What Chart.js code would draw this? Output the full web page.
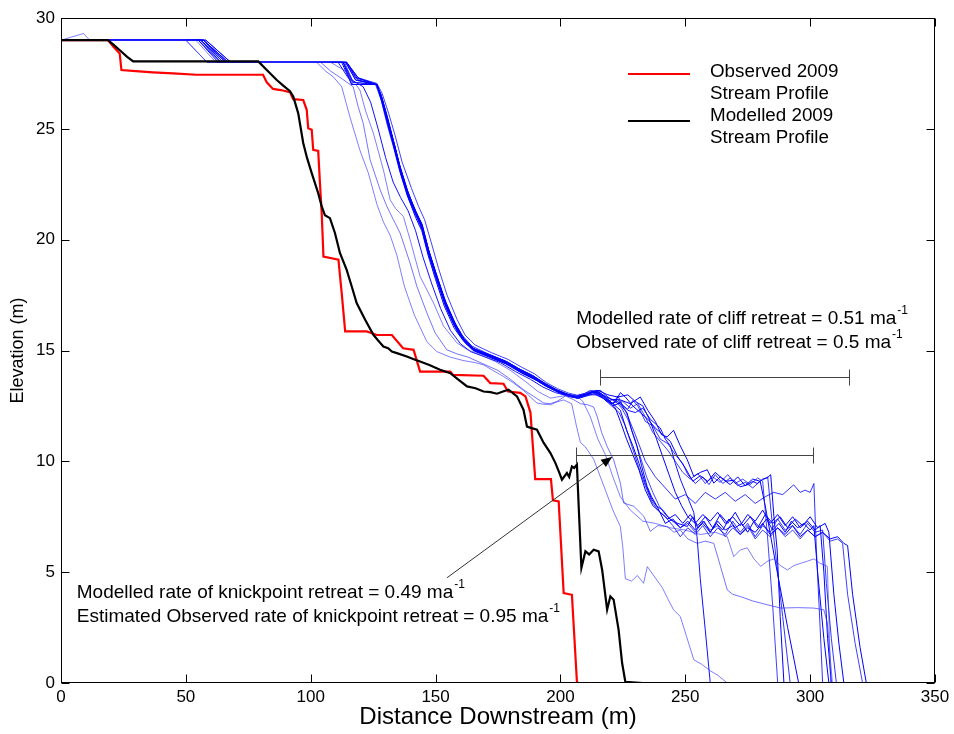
<!DOCTYPE html>
<html>
<head>
<meta charset="utf-8">
<title>Stream profile: observed vs modelled</title>
<style>
  html, body { margin: 0; padding: 0; background: #fff; }
  canvas { display: block; }
</style>
<script src="https://cdn.jsdelivr.net/npm/chart.js"></script>
</head>
<body>
<canvas id="profile" width="954" height="734"></canvas>
<script>
// Axis ticks
const xTicks = [0, 50, 100, 150, 200, 250, 300, 350];
const yTicks = [0, 5, 10, 15, 20, 25, 30];

// Observed 2009 stream profile [distance m, elevation m]
const observed2009 = [[0,29],[18.8,29],[21,28.7],[23.5,28.4],[24.2,27.65],[30,27.6],[36.8,27.55],[44.8,27.5],[54.3,27.44],[80.9,27.44],[82.4,27.1],[84.9,26.8],[88,26.75],[91.7,26.65],[93,26.34],[97,26.3],[98.4,25.86],[99,25.03],[100.4,24.96],[101,24.05],[103,24.0],[103.7,22.55],[104.4,21.2],[105.1,19.24],[111.1,19.1],[112.4,17.6],[113.8,15.86],[122.4,15.86],[126.5,15.7],[132.5,15.7],[137,15.1],[141.2,15.03],[143.8,14.05],[155.9,14.05],[157,13.9],[169.2,13.86],[171.9,13.53],[177.2,13.5],[179,13.15],[183.9,13.09],[186,12.93],[188,12.2],[189.9,9.2],[196.2,9.2],[197,8.24],[199.3,8.19],[201.3,4.06],[204.6,3.98],[206.6,0.07],[207,0],[225,0]];

// Modelled 2009 stream profile
const modelled2009 = [[0,29],[18.8,29],[21,28.8],[24,28.5],[26.5,28.25],[28.9,28.04],[79,28.04],[82,27.7],[86.4,27.2],[89,26.95],[91.7,26.7],[93,26.46],[95,25.7],[97,24.36],[98.5,23.7],[100.4,23.0],[103,22.1],[104.4,21.5],[105.7,21.1],[107.7,20.97],[109.7,20.3],[111.7,19.4],[114.4,18.64],[116.4,17.9],[118.4,17.14],[121.8,16.39],[125.1,15.71],[127,15.45],[129.1,15.18],[131,15.1],[132.5,14.95],[134.5,14.88],[138.5,14.73],[141,14.62],[143.8,14.5],[147.5,14.35],[151.8,14.13],[155.9,13.98],[159,13.7],[162.6,13.38],[166,13.3],[169.2,13.15],[172,13.12],[174.6,13.05],[177,13.15],[179.2,13.23],[182.6,12.93],[185.2,12.33],[186.6,11.57],[188.5,11.5],[190.6,11.43],[193.3,10.83],[196,10.37],[198,9.92],[199.5,9.5],[200.6,9.17],[202.6,9.47],[203.5,9.3],[204.6,9.77],[205.5,9.7],[206.6,9.85],[207.5,7.5],[208.4,5.19],[210,5.94],[211.5,5.8],[213.3,6.01],[215.3,5.94],[216.7,5.11],[218.7,3.31],[220,3.91],[221.3,3.76],[223.3,2.4],[224.7,0.9],[226,0.05],[233,0]];

// Individual model runs
const run01 = [[0,29],[9,29.3],[11.5,29],[50,29],[58.5,28],[102.4,28],[106,27.6],[109,27.35],[112.4,26.9],[115.8,25.5],[119.8,24.0],[123.1,23.0],[126.5,21.6],[129.1,20.8],[131.8,20.2],[134.5,19.3],[137.5,17.9],[141.5,16.6],[146.5,15.4],[150.5,14.95],[155.9,14.7],[161,14.55],[166,14.45],[169.2,14.35],[173,14.1],[177.2,13.83],[181,13.55],[185.2,13.2],[188,12.9],[190.6,12.63],[193,12.58],[196,12.55],[198.6,12.68],[201.3,12.77],[204.5,12.6],[206.6,11.5],[208,10.85],[210,10.65],[213.3,10.1],[216,9.3],[218,8.7],[221,7.8],[224,7.05],[225,6.1],[226,4.7],[228.5,4.6],[230.8,4.85],[233.3,4.5],[234.8,5.25],[237,4.9],[240.8,4.3],[243,3.8],[245.3,3.3],[248,3.0],[250.5,2.1],[253.4,1.05],[256.5,0.85],[260,0.55],[263,0.35],[266.8,0],[350,0]];
const run02 = [[0,29],[50,29],[58.5,28],[104,28],[108,27.6],[112,27.3],[117,26.9],[119,26.0],[121,25.26],[123.8,23.6],[127.8,22.25],[130.5,21.5],[133.1,20.9],[135.8,20.3],[139.8,18.94],[142.5,17.9],[146.5,16.7],[149.8,15.8],[154.5,15.03],[158.5,14.85],[163,14.7],[169,14.4],[175,14.1],[180,13.7],[185.2,13.23],[189.3,12.93],[193.3,12.63],[196,12.6],[198.6,12.7],[202,12.95],[205.3,12.78],[208,12.6],[211,12.55],[213.3,12.45],[214.7,12.03],[216.5,11.3],[218.7,10.67],[221.3,10.07],[224,9.02],[225.3,8.12],[229.4,7.97],[233.4,7.52],[236,6.84],[239,7.1],[242.7,7.06],[245.5,6.8],[248,6.9],[251,6.5],[254.8,6.3],[258,6.4],[261.4,6.3],[264.1,5.26],[266.8,4.2],[269,4.0],[272.1,3.9],[277,3.7],[282.8,3.53],[288.2,3.38],[295,3.4],[301.5,3.38],[305.5,3.3],[306.9,2.7],[308,1.2],[308.9,0],[350,0]];
const run03 = [[0,29],[54,29],[62,28],[108,28],[114,27.6],[119.7,26.75],[122,25.8],[125.1,24.8],[129.1,23.15],[131.8,21.8],[134,21.4],[137.1,21.05],[139.8,20.0],[143.8,18.34],[149.2,17.14],[153.2,16.1],[158.5,15.35],[162.5,15.05],[168,14.8],[174,14.5],[180,14.1],[186,13.6],[191,13.15],[196,12.85],[201,12.95],[206,13.0],[209,12.7],[212,12.0],[215,11.0],[218,10.3],[221,9.3],[224,8.4],[228,7.8],[233,7.3],[238,7.2],[244,7.0],[250,6.9],[256,6.7],[262,6.8],[266.8,6.6],[269.4,5.7],[272,6.0],[274.8,6.1],[277.5,5.6],[280.2,5.26],[283,5.5],[285.5,5.6],[288,5.3],[290.9,5.1],[293.5,5.3],[296.2,5.4],[299,5.5],[301.5,5.6],[304,5.4],[306.9,5.26],[307.5,3.0],[308.2,0],[350,0]];
const run04 = [[0,29],[56,29],[64,28],[111,28],[115,27.3],[121,26.9],[124,26.2],[127,25.0],[130,23.7],[133,22.6],[136,21.9],[139,21.3],[142,20.4],[145,19.2],[148.5,18.0],[152,16.9],[156,15.9],[160,15.3],[164,14.95],[170,14.7],[176,14.45],[182,14.05],[188,13.7],[193,13.35],[198,13.1],[203,12.95],[207,12.85],[211,13.0],[215,13.0],[218,12.8],[221,12.5],[224,12.65],[227,12.3],[230,12.2],[233,12.4],[236,11.9],[240,11.5],[242,11.0],[244,10.7],[246,9.9],[248,9.2],[250.5,8.5],[253.4,7.7],[254.7,6.6],[256,4.7],[258,2.4],[260,0],[350,0]];
const run05 = [[0,29],[58,29],[68,28],[114.4,28],[119,27.3],[126.5,27.0],[128.5,26.4],[131,25.3],[133.5,24.3],[136,23.1],[139,22.0],[142.5,21.1],[144.5,20.6],[147.2,19.4],[150.5,18.3],[154,17.1],[158,16.1],[161.2,15.5],[165.2,15.05],[172,14.75],[178.6,14.45],[184,14.1],[189.3,13.8],[194,13.45],[198.6,13.2],[203,13.0],[206.6,12.9],[210,13.0],[212.5,13.1],[214.7,13.15],[217,13.0],[220,12.8],[224,12.77],[228,12.6],[232,12.9],[235,12.3],[238,11.8],[240.5,11.2],[242.7,11.1],[245.3,11.4],[248,10.7],[250.8,10.07],[253.4,9.32],[256,9.5],[258.8,9.62],[261.4,9.02],[264,9.3],[266.5,9.1],[269.4,9.15],[272,8.85],[274.8,8.94],[277,9.1],[278.8,9.0],[281,9.2],[282.8,9.25],[284.2,9.4],[285.5,7.5],[286.8,6.0],[288,3.0],[289.5,0],[350,0]];
const run06 = [[0,29],[57,29],[66,28],[114,28],[118,27.2],[126,27.0],[128,26.6],[130.5,25.6],[133,24.5],[135.5,23.4],[138.5,22.3],[141.5,21.4],[144,20.8],[146.5,19.8],[149.5,18.7],[153,17.5],[157,16.4],[160.5,15.7],[164.5,15.2],[171,14.85],[177.5,14.55],[183,14.2],[188.5,13.9],[193.5,13.55],[198,13.25],[202,13.05],[206,12.95],[209.5,13.05],[212,13.2],[214,13.1],[218,12.9],[221,12.6],[223,12.95],[225,12.5],[227,12.35],[229,12.75],[231,12.5],[234,11.8],[237,11.6],[240,11.0],[243,10.8],[246,10.3],[249,9.9],[251,9.4],[254,9.0],[257,9.3],[259.5,8.95],[262,9.4],[265,9.0],[268,9.25],[271,8.9],[274,9.05],[277,8.8],[280,9.1],[283,9.3],[285,7.0],[289,3.0],[292,0],[350,0]];
const run07 = [[0,29],[55,29],[63,28],[113,28],[116.4,27.0],[126.5,27.0],[129,26.1],[131.5,25.0],[133.5,24.1],[136,23.0],[139,21.9],[142,21.0],[144.5,20.4],[147,19.3],[150,18.2],[153.5,17.0],[157.5,16.0],[161,15.45],[165,15.0],[171.5,14.7],[178,14.4],[183.5,14.05],[189,13.75],[194,13.4],[198.5,13.15],[203,12.95],[206.6,12.88],[210,12.98],[213,13.15],[216,13.2],[219,12.9],[222,12.7],[224,13.1],[226,12.9],[229,12.5],[232,12.2],[235,11.9],[238,11.5],[241,11.2],[244,10.9],[247,10.2],[250,9.7],[253,9.1],[256,9.35],[259,9.1],[262,9.5],[265,9.2],[268,8.95],[271,9.3],[274,8.9],[277,9.2],[280,9.1],[282,8.0],[286,5.5],[291,2.5],[295.4,0],[350,0]];
const run08 = [[0,29],[56,29],[65,28],[113,28],[117,27.0],[126.5,27.0],[128.8,26.2],[131.3,25.1],[133.8,24.0],[136.3,22.9],[139.3,21.9],[142.8,21.0],[145,20.4],[147.7,19.2],[151,18.1],[154.5,16.9],[158.5,15.95],[162,15.4],[166,15.0],[172.5,14.7],[179,14.4],[184.5,14.0],[190,13.7],[194.5,13.4],[199,13.15],[203.5,12.95],[207,12.85],[210.5,13.0],[213,13.1],[216,12.95],[219,12.7],[222,12.55],[225,12.7],[228,12.4],[231,12.6],[234,12.0],[237,11.3],[240,10.9],[243,10.5],[246,10.0],[249,9.5],[252,9.2],[255,9.45],[258,9.0],[261,9.3],[264,9.05],[267,9.4],[270,9.0],[273,9.2],[276,8.95],[279,9.25],[281,9.1],[283,6.5],[285,3.5],[287,0],[350,0]];
const run09 = [[0,29],[57,29],[67,28],[114.4,28],[118,27.3],[126.5,27.0],[128.3,26.5],[130.8,25.5],[133.3,24.4],[135.8,23.3],[138.8,22.2],[142.2,21.2],[144.4,20.7],[147,19.6],[150.3,18.4],[153.8,17.2],[157.8,16.2],[161,15.55],[165,15.1],[171.8,14.8],[178.4,14.5],[183.8,14.15],[189.1,13.85],[193.8,13.5],[198.4,13.22],[202.8,13.02],[206.4,12.92],[209.8,13.02],[212.3,13.12],[214.5,13.2],[217,13.0],[220,12.6],[223,12.7],[226.7,12.18],[228.5,11.4],[230.7,10.67],[232.5,9.8],[234.7,8.87],[236.5,8.4],[238.7,7.97],[241,7.8],[244,7.37],[247,7.2],[250.8,7.06],[253,7.5],[255,7.0],[257.5,7.3],[260,6.8],[262.5,7.2],[265,6.9],[267.5,7.4],[270,7.0],[272.5,7.2],[275,6.8],[277.5,7.3],[280,7.0],[282.5,7.4],[285,6.9],[287.5,7.2],[290,6.8],[292.5,7.3],[295,7.0],[297.5,7.2],[300,6.9],[301.5,7.1],[303,5.0],[305.5,2.0],[307.5,0],[350,0]];
const run10 = [[0,29],[56,29],[66,28],[113.5,28],[117,27.1],[126,27.0],[128.2,26.3],[130.6,25.2],[133.1,24.2],[135.6,23.1],[138.6,22.0],[142,21.1],[144.2,20.6],[146.8,19.5],[150,18.3],[153.6,17.1],[157.6,16.1],[160.8,15.5],[164.8,15.05],[171.6,14.75],[178.2,14.45],[183.6,14.1],[189,13.8],[193.6,13.45],[198.2,13.2],[202.6,13.0],[206.2,12.9],[209.6,13.0],[212.2,13.12],[214.6,13.1],[217.5,12.8],[220.5,12.5],[223.5,12.2],[226,11.6],[228,10.9],[230,10.2],[232,9.5],[234,8.9],[236.5,8.2],[239,7.8],[242,7.5],[245,7.1],[248,6.6],[251,7.0],[254,6.7],[257,7.1],[260,6.6],[263,7.0],[266,6.7],[269,7.3],[272,6.8],[275,7.2],[278,6.6],[281,7.1],[284,6.8],[287,7.4],[290,6.9],[293,7.1],[296,6.7],[299,7.2],[302,6.8],[305,6.9],[306.5,4.5],[308.5,2.0],[310.5,0],[350,0]];
const run11 = [[0,29],[55,29],[64,28],[112.4,28],[116.4,27.0],[126.5,27.0],[129,26.0],[131.6,24.9],[134,23.9],[136.6,22.8],[139.6,21.8],[143,20.9],[145.2,20.3],[147.8,19.2],[151.2,18.0],[154.8,16.8],[158.8,15.85],[162.2,15.3],[166.2,14.95],[173,14.65],[179.4,14.35],[185,13.95],[190.4,13.65],[195,13.35],[199.4,13.1],[203.6,12.92],[207.2,12.84],[210.6,12.95],[213.4,13.05],[216,12.9],[219,12.75],[222,12.4],[224,11.8],[226.5,11.0],[229,10.3],[231.5,9.6],[234,8.7],[237,8.0],[240,7.7],[243,7.4],[246,7.6],[249,7.2],[252,7.6],[255,7.1],[258,7.5],[261,7.0],[264,7.6],[267,7.2],[270,7.7],[273,7.1],[276,7.5],[279,7.0],[282,7.6],[285,7.2],[288,7.5],[291,7.0],[294,7.4],[297,7.1],[300,7.5],[303,7.0],[306,7.2],[307.5,6.8],[309.5,4.0],[311.5,1.8],[313.5,0],[350,0]];
const run12 = [[0,29],[58,29],[68,28],[114.4,28],[119,27.3],[126.5,27.05],[128.6,26.6],[131.2,25.7],[133.8,24.7],[136.6,23.5],[140.4,22.3],[143.2,21.5],[145.6,20.9],[148.2,19.9],[151.2,18.7],[154.6,17.5],[158.6,16.4],[161.8,15.7],[165.8,15.25],[172.4,14.9],[179,14.6],[184.4,14.25],[189.6,13.95],[194.4,13.55],[198.8,13.28],[203.2,13.08],[206.8,12.98],[210.2,13.08],[213,13.2],[215.5,13.05],[218.5,12.7],[221.5,12.8],[224.5,12.4],[227,11.9],[229.5,11.1],[232,10.2],[234.5,9.3],[237,8.6],[239.5,8.0],[242,7.6],[245,7.3],[248,7.0],[251,7.2],[254,6.8],[257,7.3],[260,6.9],[263,7.1],[266,6.6],[269,7.0],[272,6.7],[275,7.1],[278,6.5],[281,6.9],[284,6.6],[287,7.0],[290,6.6],[293,6.9],[296,6.5],[299,6.9],[302,6.6],[305,6.8],[308,6.4],[311,6.5],[313,6.3],[315,4.0],[318,1.8],[321,0],[350,0]];
const run13 = [[0,29],[57,29],[67,28],[114.4,28],[119,27.2],[126.5,27.0],[128.4,26.4],[130.9,25.4],[133.4,24.3],[135.9,23.2],[138.9,22.1],[142.4,21.2],[144.6,20.7],[147.3,19.5],[150.6,18.35],[154.2,17.15],[158.2,16.15],[161.4,15.55],[165.4,15.08],[172.2,14.78],[178.8,14.48],[184.2,14.12],[189.5,13.82],[194.2,13.48],[198.7,13.22],[203.1,13.02],[206.7,12.92],[210.1,13.02],[212.7,13.14],[215,13.1],[218,12.9],[221,12.6],[224,12.3],[226.5,11.4],[229,10.7],[231.5,9.9],[234,9.0],[236.5,8.3],[239,7.9],[242,7.2],[245,7.4],[248,7.0],[251,7.3],[254,6.9],[257,7.2],[260,6.8],[263,7.3],[266,6.9],[269,7.1],[272,6.7],[275,7.0],[278,6.8],[281,7.2],[284,6.7],[287,7.0],[290,6.7],[293,7.1],[296,6.6],[299,6.9],[302,6.6],[305,6.8],[308,6.5],[311,6.6],[313.5,6.3],[315,6.2],[317,4.0],[320,1.6],[322.5,0],[350,0]];
const run14 = [[0,29],[56,29],[65,28],[113,28],[117,27.1],[126.5,27.0],[128.7,26.3],[131.2,25.2],[133.7,24.2],[136.2,23.1],[139.2,22.05],[142.6,21.15],[144.8,20.6],[147.4,19.45],[150.7,18.3],[154.2,17.1],[158.2,16.1],[161.4,15.5],[165.4,15.05],[172,14.75],[178.6,14.45],[184,14.1],[189.3,13.78],[194,13.45],[198.6,13.18],[203,12.98],[206.6,12.88],[210,12.98],[212.6,13.1],[215,13.05],[218,12.85],[221,12.6],[223,12.8],[226,12.3],[230,11.2],[234,10.0],[238,9.3],[242,8.8],[246,8.3],[250,8.5],[254,8.1],[258,8.6],[262,8.3],[266,8.6],[270,8.2],[274,8.5],[278,8.1],[282,8.4],[285.4,8.6],[289,8.5],[293.4,8.94],[296,8.6],[298,8.7],[300,8.6],[301.5,9.0],[302.5,6.0],[304,2.5],[305,0],[350,0]];
const run15 = [[0,29],[57,29],[66,28],[114,28],[118,27.2],[126.5,27.0],[128.5,26.3],[131,25.2],[133.5,24.2],[136,23.1],[139,22.0],[142.4,21.1],[144.5,20.55],[147.1,19.4],[150.4,18.25],[153.9,17.05],[157.9,16.05],[161.1,15.5],[165.1,15.02],[171.9,14.72],[178.5,14.42],[183.9,14.07],[189.2,13.77],[193.9,13.42],[198.5,13.17],[202.9,12.97],[206.5,12.87],[209.9,12.97],[212.4,13.08],[215,13.2],[219,13.0],[223,12.9],[227,13.0],[230,12.7],[233,12.5],[236,11.8],[238.5,11.0],[241,10.2],[243.5,9.4],[246,8.6],[248.5,8.0],[251,7.5],[254,7.2],[257,7.6],[260,7.3],[263,7.7],[266,7.2],[269,7.5],[272,7.1],[275,7.6],[278,7.3],[281,7.8],[284,7.2],[287,7.6],[290,7.1],[293,7.5],[296,7.0],[299,7.3],[302,6.9],[304,7.1],[305.5,5.0],[307,2.0],[308.5,0],[350,0]];

const modelRuns = [run01, run02, run03, run04, run05, run06, run07, run08, run09, run10, run11, run12, run13, run14, run15];

// Retreat rates quoted on the figure (m per annum)
const cliffRateModelled = 0.51;
const cliffRateObserved = 0.5;
const knickRateModelled = 0.49;
const knickRateObserved = 0.95;

// ---- styling ----
const FONT = '"Liberation Sans", Arial, Helvetica, sans-serif';
const NOTE_SIZE = 19;
const runColours = ['rgba(40,40,255,0.6)', 'rgba(40,40,255,0.65)', 'rgba(40,40,255,0.6)', '#1010ff',
  '#0000ff', 'rgba(0,0,255,0.8)', '#0000ff', 'rgba(0,0,255,0.75)', '#0000ff', 'rgba(0,0,255,0.8)',
  '#0000ff', 'rgba(0,0,255,0.75)', '#0000ff', 'rgba(0,0,255,0.8)', '#0000ff'];

const toPoints = arr => arr.map(([x, y]) => ({ x, y }));

const datasets = [
  { label: 'Modelled 2009 Stream Profile', data: toPoints(modelled2009), borderColor: '#000000', borderWidth: 2.2 },
  { label: 'Observed 2009 Stream Profile', data: toPoints(observed2009), borderColor: '#ff0000', borderWidth: 2.2 },
  ...modelRuns.map((run, i) => ({ label: 'Model run ' + (i + 1), data: toPoints(run), borderColor: runColours[i], borderWidth: 1 }))
].map(d => Object.assign(d, { showLine: true, pointRadius: 0, pointHoverRadius: 0, fill: false, tension: 0 }));

// Superscripted rate label "... ma^-1"
function rateLabel(ctx, text, px, py) {
  ctx.font = NOTE_SIZE + 'px ' + FONT;
  ctx.textAlign = 'left';
  ctx.textBaseline = 'middle';
  ctx.fillStyle = '#000';
  ctx.fillText(text, px, py);
  const w = ctx.measureText(text).width;
  ctx.font = '12px ' + FONT;
  ctx.fillText('-1', px + w + 1, py - 8);
}

function bracket(ctx, xs, x0, x1, yPix) {
  const a = Math.round(xs.getPixelForValue(x0)) + 0.5;
  const b = Math.round(xs.getPixelForValue(x1)) + 0.5;
  const y = Math.round(yPix) + 0.5;
  ctx.beginPath();
  ctx.moveTo(a, y); ctx.lineTo(b, y);
  ctx.moveTo(a, y - 8); ctx.lineTo(a, y + 8);
  ctx.moveTo(b, y - 8); ctx.lineTo(b, y + 8);
  ctx.stroke();
}

const frameAndNotes = {
  id: 'frameAndNotes',
  afterDatasetsDraw(chart) {
    const { ctx, chartArea: a, scales: { x, y } } = chart;
    ctx.save();

    // axes box with inward ticks on all four sides
    ctx.strokeStyle = '#000';
    ctx.lineWidth = 1;
    const L = a.left + 0.5, R = a.right - 0.5, T = a.top + 0.5, B = a.bottom - 0.5;
    ctx.strokeRect(L, T, R - L, B - T);
    ctx.beginPath();
    xTicks.forEach(v => {
      const px = Math.round(x.getPixelForValue(v)) + 0.5;
      ctx.moveTo(px, B); ctx.lineTo(px, B - 8);
      ctx.moveTo(px, T); ctx.lineTo(px, T + 8);
    });
    yTicks.forEach(v => {
      const py = Math.round(y.getPixelForValue(v)) + 0.5;
      ctx.moveTo(L, py); ctx.lineTo(L + 8, py);
      ctx.moveTo(R, py); ctx.lineTo(R - 8, py);
    });
    ctx.stroke();

    // retreat brackets
    ctx.strokeStyle = '#444';
    bracket(ctx, x, 215.8, 315.6, y.getPixelForValue(13.8));
    bracket(ctx, x, 206.4, 301.1, y.getPixelForValue(10.3));

    // arrow from the knickpoint note to the modelled knickpoint
    const tx = x.getPixelForValue(154.6), ty = y.getPixelForValue(4.75);
    const hx = x.getPixelForValue(220.7), hy = y.getPixelForValue(10.2);
    ctx.strokeStyle = '#333';
    ctx.beginPath(); ctx.moveTo(tx, ty); ctx.lineTo(hx, hy); ctx.stroke();
    const ang = Math.atan2(hy - ty, hx - tx);
    ctx.fillStyle = '#000';
    ctx.beginPath();
    ctx.moveTo(hx, hy);
    ctx.lineTo(hx - 11 * Math.cos(ang) + 4.5 * Math.sin(ang), hy - 11 * Math.sin(ang) - 4.5 * Math.cos(ang));
    ctx.lineTo(hx - 11 * Math.cos(ang) - 4.5 * Math.sin(ang), hy - 11 * Math.sin(ang) + 4.5 * Math.cos(ang));
    ctx.closePath(); ctx.fill();

    // rate notes
    const cx = x.getPixelForValue(206.3);
    rateLabel(ctx, 'Modelled rate of cliff retreat = ' + cliffRateModelled + ' ma', cx, y.getPixelForValue(16.42));
    rateLabel(ctx, 'Observed rate of cliff retreat = ' + cliffRateObserved + ' ma', cx, y.getPixelForValue(15.35));
    const kx = x.getPixelForValue(6.3);
    rateLabel(ctx, 'Modelled rate of knickpoint retreat = ' + knickRateModelled + ' ma', kx, y.getPixelForValue(4.07));
    rateLabel(ctx, 'Estimated Observed rate of knickpoint retreat = ' + knickRateObserved + ' ma', kx, y.getPixelForValue(3.0));

    // legend
    const lx0 = a.left + 567, lx1 = a.left + 629, ltx = a.left + 649;
    ctx.lineWidth = 2.2;
    ctx.strokeStyle = '#ff0000';
    ctx.beginPath(); ctx.moveTo(lx0, a.top + 56); ctx.lineTo(lx1, a.top + 56); ctx.stroke();
    ctx.strokeStyle = '#000';
    ctx.beginPath(); ctx.moveTo(lx0, a.top + 103); ctx.lineTo(lx1, a.top + 103); ctx.stroke();
    ctx.fillStyle = '#000';
    ctx.font = '18.8px ' + FONT;
    ctx.textAlign = 'left';
    ctx.textBaseline = 'middle';
    ctx.fillText('Observed 2009', ltx, a.top + 54);
    ctx.fillText('Stream Profile', ltx, a.top + 76);
    ctx.fillText('Modelled 2009', ltx, a.top + 98);
    ctx.fillText('Stream Profile', ltx, a.top + 120);

    ctx.restore();
  }
};

new Chart(document.getElementById('profile').getContext('2d'), {
  type: 'scatter',
  data: { datasets },
  options: {
    responsive: false,
    devicePixelRatio: 1,
    animation: false,
    events: [],
    layout: { padding: { left: 0, top: 18, right: 19, bottom: 0 } },
    plugins: { legend: { display: false }, tooltip: { enabled: false } },
    scales: {
      x: {
        type: 'linear', min: 0, max: 350,
        afterBuildTicks: s => { s.ticks = xTicks.map(v => ({ value: v })); },
        afterFit: s => { s.height = 51; },
        grid: { display: false, drawTicks: false },
        border: { display: false },
        ticks: { color: '#000', font: { family: FONT, size: 17 }, padding: 4, maxRotation: 0, minRotation: 0, autoSkip: false },
        title: { display: true, text: 'Distance Downstream (m)', color: '#000', font: { family: FONT, size: 24 }, padding: { top: 0, bottom: 2.6 } }
      },
      y: {
        type: 'linear', min: 0, max: 30,
        afterBuildTicks: s => { s.ticks = yTicks.map(v => ({ value: v })); },
        afterFit: s => { s.width = 61; },
        grid: { display: false, drawTicks: false },
        border: { display: false },
        ticks: { color: '#000', font: { family: FONT, size: 17 }, padding: 6, autoSkip: false },
        title: { display: true, text: 'Elevation (m)', color: '#000', font: { family: FONT, size: 18 }, padding: { top: 7, bottom: 0 } }
      }
    }
  },
  plugins: [frameAndNotes]
});
</script>
</body>
</html>
